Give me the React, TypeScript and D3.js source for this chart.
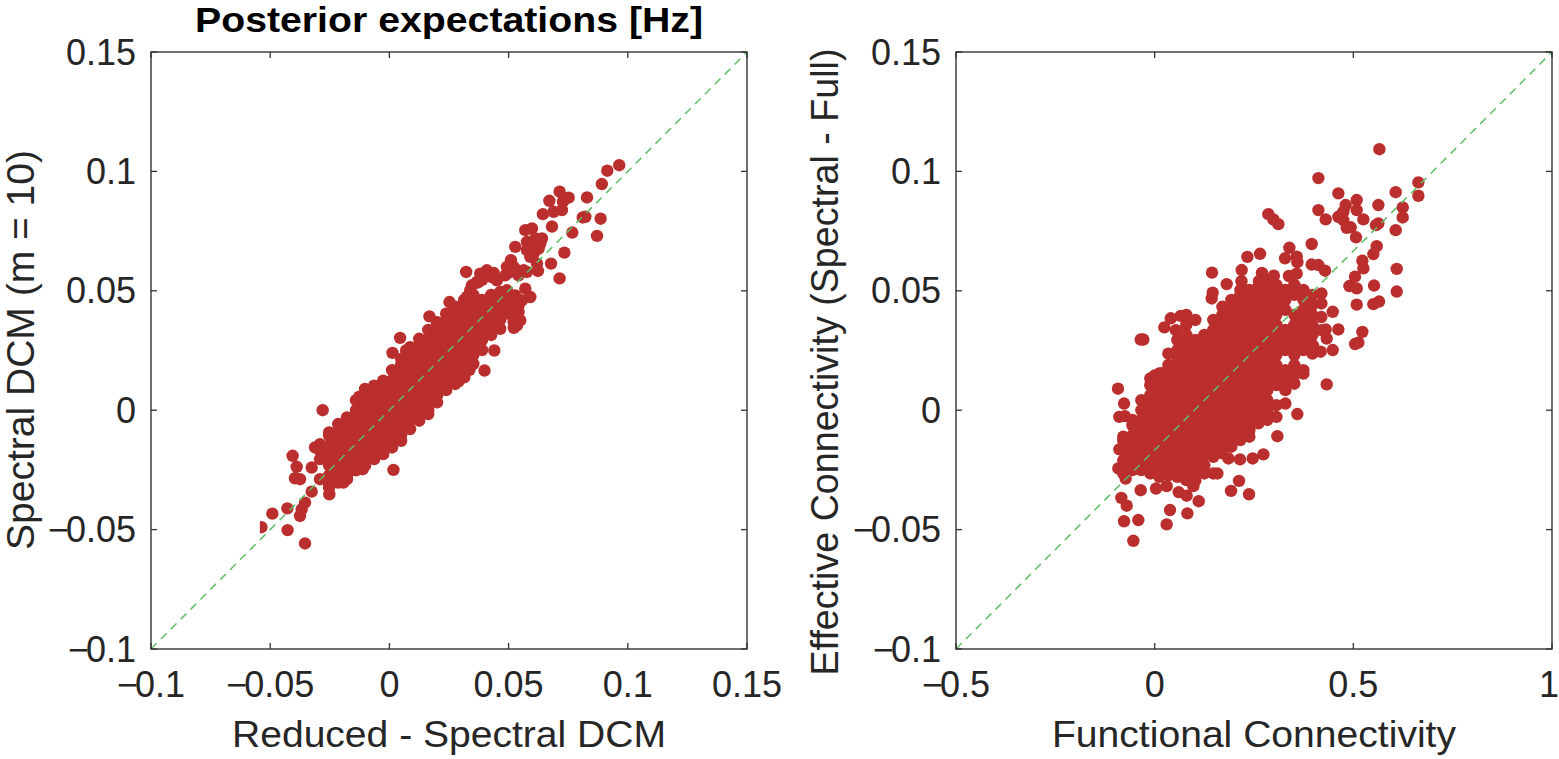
import React from "react";
import * as d3 from "d3";

const titleText = "Posterior expectations [Hz]";
const leftXTicks = [-0.1, -0.05, 0, 0.05, 0.1, 0.15];
const leftXLabels = ["\u22120.1", "\u22120.05", "0", "0.05", "0.1", "0.15"];
const rightXTicks = [-0.5, 0, 0.5, 1];
const rightXLabels = ["\u22120.5", "0", "0.5", "1"];
const yTicks = [-0.1, -0.05, 0, 0.05, 0.1, 0.15];
const yLabels = ["\u22120.1", "\u22120.05", "0", "0.05", "0.1", "0.15"];

// Left panel: dense core, one x with its y values per row.
const leftCore: [number, number[]][] = [
  [-0.0291, [-0.0142, -0.0168, -0.0205]],
  [-0.0253, [-0.0093, -0.0105, -0.0147, -0.0189, -0.0231, -0.0273, -0.0315, -0.0324]],
  [-0.0215, [-0.0058, -0.0084, -0.0126, -0.0168, -0.021, -0.0252, -0.0294, -0.0303]],
  [-0.0178, [-0.003, -0.0063, -0.0105, -0.0147, -0.0189, -0.0231, -0.0273, -0.0289]],
  [-0.014, [0.0042, 0.0, -0.0042, -0.0084, -0.0126, -0.0168, -0.021, -0.0252]],
  [-0.0102, [0.0089, 0.0063, 0.0021, -0.0021, -0.0063, -0.0105, -0.0147, -0.0189, -0.0231]],
  [-0.0064, [0.0103, 0.0084, 0.0042, 0.0, -0.0042, -0.0084, -0.0126, -0.0168, -0.0205]],
  [-0.0026, [0.0124, 0.0105, 0.0063, 0.0021, -0.0021, -0.0063, -0.0105, -0.0147, -0.0184]],
  [0.0011, [0.0168, 0.0126, 0.0084, 0.0042, 0.0, -0.0042, -0.0084, -0.0126, -0.0156]],
  [0.0049, [0.0215, 0.0189, 0.0147, 0.0105, 0.0063, 0.0021, -0.0021, -0.0063, -0.0105, -0.0128]],
  [0.0087, [0.0264, 0.0252, 0.021, 0.0168, 0.0126, 0.0084, 0.0042, 0.0, -0.0042, -0.0079]],
  [0.0125, [0.0299, 0.0273, 0.0231, 0.0189, 0.0147, 0.0105, 0.0063, 0.0021, -0.0021, -0.0044]],
  [0.0163, [0.0336, 0.0294, 0.0252, 0.021, 0.0168, 0.0126, 0.0084, 0.0042, 0.0, -0.0016]],
  [0.02, [0.0369, 0.0357, 0.0315, 0.0273, 0.0231, 0.0189, 0.0147, 0.0105, 0.0063, 0.0033]],
  [0.0238, [0.0404, 0.0378, 0.0336, 0.0294, 0.0252, 0.021, 0.0168, 0.0126, 0.0084]],
  [0.0276, [0.0432, 0.0399, 0.0357, 0.0315, 0.0273, 0.0231, 0.0189, 0.0147, 0.011]],
  [0.0314, [0.0462, 0.042, 0.0378, 0.0336, 0.0294, 0.0252, 0.021, 0.0168, 0.0138]],
  [0.0352, [0.0483, 0.0441, 0.0399, 0.0357, 0.0315, 0.0273, 0.0231, 0.0194]],
  [0.0389, [0.0546, 0.0462, 0.042, 0.0378, 0.0336, 0.0294, 0.0252]],
  [0.0427, [0.0558, 0.0483, 0.0441, 0.0399, 0.0357, 0.0315]],
  [0.0465, [0.0495, 0.0462, 0.042, 0.0378, 0.0341]],
  [0.0503, [0.0474, 0.0441, 0.0404]],
];

// Left panel: separate points around the core.
const leftOutliers: [number, number][] = [
  [0.0964, 0.1026], [0.0914, 0.1003], [0.0891, 0.0947], [0.0829, 0.0891], [0.0811, 0.0807], [0.0822, 0.081],
  [0.0886, 0.0802], [0.0871, 0.073], [0.0767, 0.0744], [0.0714, 0.0915], [0.0752, 0.089], [0.0671, 0.0877],
  [0.0728, 0.0873], [0.0724, 0.0838], [0.0689, 0.0831], [0.0644, 0.0821], [0.0682, 0.0769], [0.0734, 0.066],
  [0.0678, 0.0614], [0.0714, 0.0552], [0.0598, 0.0761], [0.057, 0.0754], [0.064, 0.0719], [0.0577, 0.0705],
  [0.0612, 0.0691], [0.0626, 0.0677], [0.0591, 0.0642], [0.0528, 0.0684], [0.051, 0.0628], [0.0507, 0.0579],
  [0.0542, 0.0565], [0.0577, 0.0579], [0.0623, 0.0583], [0.0619, 0.0614], [0.0605, 0.0655], [0.0322, 0.0579],
  [0.0409, 0.0586], [0.0437, 0.0575], [0.0451, 0.0544], [0.0346, 0.0523], [0.0372, 0.0535], [0.0591, 0.0474],
  [0.057, 0.0509], [0.0528, 0.0481], [0.0486, 0.0404], [0.0542, 0.0411], [0.0535, 0.0355], [0.0522, 0.0345],
  [0.044, 0.025], [0.0399, 0.0166], [0.0336, 0.0169], [0.029, 0.0121], [0.0168, 0.0393], [0.0252, 0.0453],
  [0.0045, 0.0303], [0.0013, 0.024], [0.007, 0.025], [-0.0126, 0.0057], [-0.028, 0.0], [0.0017, -0.025],
  [-0.0112, -0.0247], [-0.0193, -0.0303], [-0.0252, -0.0352], [-0.0326, -0.0341], [-0.0291, -0.0289],
  [-0.0326, -0.024], [-0.0312, -0.0156], [-0.0375, -0.0289], [-0.0396, -0.0285], [-0.0389, -0.0237],
  [-0.0406, -0.0191], [-0.0354, -0.0387], [-0.0375, -0.0443], [-0.0368, -0.0415], [-0.0428, -0.0411],
  [-0.0491, -0.0433], [-0.0427, -0.0502], [-0.0354, -0.0558],
  [0.0605, 0.067], [0.0577, 0.067], [0.0633, 0.0698], [0.0591, 0.0684], [0.0612, 0.0719], [0.0521, 0.06],
  [0.0493, 0.06], [0.0486, 0.0565], [0.0563, 0.0586], [0.0535, 0.0586], [0.0465, 0.0488], [0.0493, 0.0502],
  [0.0521, 0.046], [0.0556, 0.046], [0.0514, 0.0404], [0.0521, 0.0369], [0.0479, 0.0432], [0.0339, 0.0502],
  [0.0381, 0.0572], [0.0367, 0.0537], [0.0325, 0.0474], [0.0283, 0.0432], [0.0549, 0.0376], [0.0542, 0.0439],
];
const leftClippedPoint: [number, number] = [-0.0537, -0.049];

// Right panel: dense core, one x with its y values per row.
const rightCore: [number, number[]][] = [
  [-0.079, [-0.0111, -0.0126, -0.0168, -0.021, -0.0252, -0.0265]],
  [-0.056, [-0.0041, -0.0063, -0.0105, -0.0147, -0.0189, -0.0231, -0.0251]],
  [-0.0335, [0.0042, 0.0, -0.0042, -0.0084, -0.0126, -0.0168, -0.021, -0.0251]],
  [-0.0109, [0.0133, 0.0105, 0.0063, 0.0021, -0.0021, -0.0063, -0.0105, -0.0147, -0.0189, -0.0231, -0.0265]],
  [0.0118, [0.0154, 0.0126, 0.0084, 0.0042, 0.0, -0.0042, -0.0084, -0.0126, -0.0168, -0.021, -0.0252, -0.0279]],
  [0.0344, [0.0237, 0.0189, 0.0147, 0.0105, 0.0063, 0.0021, -0.0021, -0.0063, -0.0105, -0.0147, -0.0189, -0.0231, -0.0273]],
  [0.0571, [0.0294, 0.0252, 0.021, 0.0168, 0.0126, 0.0084, 0.0042, 0.0, -0.0042, -0.0084, -0.0126, -0.0168, -0.021, -0.0252, -0.0279]],
  [0.0797, [0.0399, 0.0357, 0.0315, 0.0273, 0.0231, 0.0189, 0.0147, 0.0105, 0.0063, 0.0021, -0.0021, -0.0063, -0.0105, -0.0147, -0.0189, -0.0231, -0.0273, -0.0293]],
  [0.1024, [0.0378, 0.0294, 0.0252, 0.021, 0.0168, 0.0126, 0.0084, 0.0042, 0.0, -0.0042, -0.0084, -0.0126, -0.0168, -0.021, -0.0252, -0.0294]],
  [0.125, [0.0315, 0.0273, 0.0231, 0.0189, 0.0147, 0.0105, 0.0063, 0.0021, -0.0021, -0.0063, -0.0105, -0.0147, -0.0189, -0.0231, -0.0265]],
  [0.1477, [0.0378, 0.0336, 0.0294, 0.0252, 0.021, 0.0168, 0.0126, 0.0084, 0.0042, 0.0, -0.0042, -0.0084, -0.0126, -0.0168, -0.0195]],
  [0.1704, [0.0433, 0.0399, 0.0357, 0.0315, 0.0273, 0.0231, 0.0189, 0.0147, 0.0105, 0.0063, 0.0021, -0.0021, -0.0063, -0.0105, -0.0147, -0.0181]],
  [0.193, [0.0462, 0.042, 0.0378, 0.0336, 0.0294, 0.0252, 0.021, 0.0168, 0.0126, 0.0084, 0.0042, 0.0, -0.0042, -0.0084, -0.0126, -0.0153]],
  [0.2157, [0.0503, 0.0483, 0.0441, 0.0399, 0.0357, 0.0315, 0.0273, 0.0231, 0.0189, 0.0147, 0.0105, 0.0063, 0.0021, -0.0021, -0.0063, -0.0105, -0.0125]],
  [0.2383, [0.0504, 0.0462, 0.042, 0.0378, 0.0336, 0.0294, 0.0252, 0.021, 0.0168, 0.0126, 0.0084, 0.0042, 0.0, -0.0042, -0.0084, -0.0111]],
  [0.261, [0.0517, 0.0483, 0.0441, 0.0399, 0.0357, 0.0315, 0.0273, 0.0231, 0.0189, 0.0147, 0.0105, 0.0063, 0.0021, -0.0021, -0.0055]],
  [0.2836, [0.0546, 0.0504, 0.0462, 0.042, 0.0378, 0.0336, 0.0294, 0.0252, 0.021, 0.0168, 0.0126, 0.0084, 0.0042, 0.0, -0.0041]],
  [0.3063, [0.0525, 0.0483, 0.0441, 0.0399, 0.0357, 0.0315, 0.0273, 0.0231, 0.0189, 0.0147, 0.0105, 0.0021, -0.0028]],
  [0.329, [0.0504, 0.0462, 0.042, 0.0336, 0.0294, 0.0252, 0.0168, 0.0126, 0.0084, 0.0028]],
  [0.3516, [0.0525, 0.0483, 0.0399, 0.0357, 0.0315, 0.0273, 0.0231, 0.0189, 0.0147, 0.0111]],
  [0.3743, [0.0504, 0.0462, 0.042, 0.0378, 0.0336, 0.0294, 0.0252, 0.0168, 0.0153]],
  [0.3969, [0.0483, 0.0441, 0.0399, 0.0357, 0.0315, 0.0273, 0.0237]],
  [0.4196, [0.0489, 0.0447, 0.039, 0.0335]],
];

// Right panel: separate points around the core.
const rightOutliers: [number, number][] = [
  [0.5655, 0.1093], [0.412, 0.0972], [0.4623, 0.0908], [0.6637, 0.0954], [0.6637, 0.0898], [0.6066, 0.0913],
  [0.5085, 0.088], [0.4808, 0.0859], [0.5085, 0.0838], [0.563, 0.0859], [0.6243, 0.0849], [0.6243, 0.0807],
  [0.412, 0.0838], [0.4304, 0.0799], [0.4623, 0.081], [0.4749, 0.0796], [0.4749, 0.083], [0.5253, 0.0799],
  [0.4833, 0.0764], [0.4934, 0.0766], [0.5068, 0.0724], [0.563, 0.0782], [0.5571, 0.0775], [0.6066, 0.0754],
  [0.5588, 0.0687], [0.5504, 0.0654], [0.5227, 0.0626], [0.5253, 0.0594], [0.6092, 0.0592], [0.5043, 0.0559],
  [0.49, 0.052], [0.5085, 0.051], [0.5521, 0.0522], [0.6092, 0.0497], [0.5085, 0.0442], [0.5504, 0.0444],
  [0.5647, 0.0455], [0.5227, 0.0328], [0.5043, 0.0277], [0.5127, 0.0283], [0.433, 0.0108], [0.2861, 0.0821],
  [0.2987, 0.0799], [0.3113, 0.0779], [0.3952, 0.0696], [0.339, 0.068], [0.2652, 0.0655], [0.2333, 0.0642],
  [0.3281, 0.0636], [0.3575, 0.0643], [0.3592, 0.062], [0.3952, 0.061], [0.412, 0.0608], [0.4288, 0.0584],
  [0.219, 0.0587], [0.1443, 0.0576], [0.1813, 0.0528], [0.146, 0.0492], [0.1435, 0.0468], [0.4481, 0.0412],
  [0.4623, 0.0338], [0.4304, 0.0338], [0.433, 0.03], [0.4481, 0.0252], [0.4178, 0.0245], [0.3994, 0.0266],
  [-0.0285, 0.0296], [-0.0352, 0.0296], [0.0244, 0.0347], [-0.0923, 0.009], [-0.0771, 0.0028], [-0.0889, -0.0028],
  [0.3591, -0.0016], [0.3088, -0.0109], [0.2736, -0.0185], [0.2467, -0.0202], [0.2148, -0.0206], [0.1855, -0.0202],
  [0.1477, -0.0265], [0.1578, -0.0265], [0.2123, -0.0296], [0.1922, -0.0338], [0.2375, -0.0352], [0.1108, -0.0381],
  [0.0823, -0.0432], [0.0386, -0.0418], [0.0302, -0.0478], [-0.0411, -0.046], [-0.0771, -0.0465], [-0.0537, -0.0547],
  [-0.0839, -0.0367], [-0.0704, -0.04], [-0.0352, -0.0335], [0.0034, -0.0328], [0.0302, -0.0318], [0.0604, -0.0343],
  [0.0806, -0.0358], [0.0974, -0.0318], [-0.073, -0.0286], [-0.0914, -0.0244], [-0.0889, -0.0164], [-0.075, -0.0025],
  [0.0, 0.0145], [0.0185, 0.0155], [0.0655, 0.0395], [0.0405, 0.0385], [0.0535, 0.0335], [0.27, 0.0575], [0.3, 0.0563],
  [0.338, 0.0562], [0.3575, 0.0572], [0.2185, 0.054], [0.2625, 0.054],
];

const WIDTH = 1559;
const HEIGHT = 759;
const TOP = 52;
const BOTTOM = 649;
const RADIUS = 6.2;
const RED = "#bb2e2e";
const GREEN = "#5fbd63";
const AXIS = "#333333";
const FONT = "'Liberation Sans', Arial, sans-serif";
const TICK = 6;
const TICK_FONT = 36;
const TITLE_FONT = 35.5;

function flatten(core: [number, number[]][], extra: [number, number][]) {
  const out: [number, number][] = [];
  core.forEach(([x, ys]) => ys.forEach((y) => out.push([x, y])));
  return out.concat(extra);
}

function tickText(label: string) {
  if (label[0] !== "\u2212") return label;
  return (
    <>
      <tspan>{"\u2212"}</tspan>
      <tspan dx={-3}>{label.slice(1)}</tspan>
    </>
  );
}

type PanelProps = {
  id: string;
  left: number;
  right: number;
  domain: [number, number];
  xTicks: number[];
  xLabels: string[];
  points: [number, number][];
  clipped?: [number, number];
  xTitle: string;
  xTitleLength: number;
  yTitle: string;
  yTitleX: number;
  yTitleY: number;
  yTitleSize: number;
  yTitleLength: number;
};

function Panel(p: PanelProps) {
  const x = d3.scaleLinear().domain(p.domain).range([p.left, p.right]);
  const y = d3.scaleLinear().domain([-0.1, 0.15]).range([BOTTOM, TOP]);
  return (
    <g>
      {p.clipped && (
        <clipPath id={p.id + "-cut"}>
          <rect x={x(p.clipped[0]) - 1.5} y={y(p.clipped[1]) - 10} width={20} height={20} />
        </clipPath>
      )}
      {p.points.map(([a, b], i) => (
        <circle key={i} cx={x(a)} cy={y(b)} r={RADIUS} fill={RED} />
      ))}
      {p.clipped && (
        <circle cx={x(p.clipped[0])} cy={y(p.clipped[1])} r={RADIUS} fill={RED} clipPath={`url(#${p.id}-cut)`} />
      )}
      <line
        x1={x(p.domain[0])}
        y1={y(-0.1)}
        x2={x(p.domain[1])}
        y2={y(0.15)}
        stroke={GREEN}
        strokeWidth={1.5}
        strokeDasharray="8 6"
      />
      <rect x={p.left} y={TOP} width={p.right - p.left} height={BOTTOM - TOP} fill="none" stroke={AXIS} strokeWidth={1.4} />
      {p.xTicks.map((t, i) => (
        <g key={i}>
          <line x1={x(t)} x2={x(t)} y1={BOTTOM} y2={BOTTOM - TICK} stroke={AXIS} strokeWidth={1.3} />
          <line x1={x(t)} x2={x(t)} y1={TOP} y2={TOP + TICK} stroke={AXIS} strokeWidth={1.3} />
          <text
            x={Math.min(x(t), WIDTH - 10)}
            y={697}
            fontSize={TICK_FONT}
            textAnchor="middle"
            fill="#262626"
            fontFamily={FONT}
          >
            {tickText(p.xLabels[i])}
          </text>
        </g>
      ))}
      {yTicks.map((t, i) => (
        <g key={i}>
          <line x1={p.left} x2={p.left + TICK} y1={y(t)} y2={y(t)} stroke={AXIS} strokeWidth={1.3} />
          <line x1={p.right} x2={p.right - TICK} y1={y(t)} y2={y(t)} stroke={AXIS} strokeWidth={1.3} />
          <text x={p.left - 15} y={y(t) + 12.5} fontSize={TICK_FONT} textAnchor="end" fill="#262626" fontFamily={FONT}>
            {tickText(yLabels[i])}
          </text>
        </g>
      ))}
      <text
        x={(p.left + p.right) / 2}
        y={747}
        fontSize={TICK_FONT}
        textAnchor="middle"
        fill="#262626"
        fontFamily={FONT}
        textLength={p.xTitleLength}
        lengthAdjust="spacingAndGlyphs"
      >
        {p.xTitle}
      </text>
      <text
        transform={`translate(${p.yTitleX},${p.yTitleY}) rotate(-90)`}
        fontSize={p.yTitleSize}
        textAnchor="middle"
        fill="#262626"
        fontFamily={FONT}
        textLength={p.yTitleLength}
        lengthAdjust="spacingAndGlyphs"
      >
        {p.yTitle}
      </text>
    </g>
  );
}

export default function App() {
  return (
    <svg
      width={WIDTH}
      height={HEIGHT}
      style={{ position: "absolute", left: 0, top: 0, display: "block", background: "#fff" }}
    >
      <text
        x={449}
        y={32.2}
        fontSize={TITLE_FONT}
        fontWeight="bold"
        textAnchor="middle"
        fill="#000"
        fontFamily={FONT}
        textLength={508}
        lengthAdjust="spacingAndGlyphs"
      >
        {titleText}
      </text>
      <Panel
        id="left"
        left={151}
        right={747}
        domain={[-0.1, 0.15]}
        xTicks={leftXTicks}
        xLabels={leftXLabels}
        points={flatten(leftCore, leftOutliers)}
        clipped={leftClippedPoint}
        xTitle="Reduced - Spectral DCM"
        xTitleLength={434}
        yTitle="Spectral DCM (m = 10)"
        yTitleX={34}
        yTitleY={350}
        yTitleSize={38.5}
        yTitleLength={400}
      />
      <Panel
        id="right"
        left={956}
        right={1552}
        domain={[-0.5, 1]}
        xTicks={rightXTicks}
        xLabels={rightXLabels}
        points={flatten(rightCore, rightOutliers)}
        xTitle="Functional Connectivity"
        xTitleLength={404}
        yTitle="Effective Connectivity (Spectral - Full)"
        yTitleX={838}
        yTitleY={362}
        yTitleSize={38}
        yTitleLength={627}
      />
    </svg>
  );
}
